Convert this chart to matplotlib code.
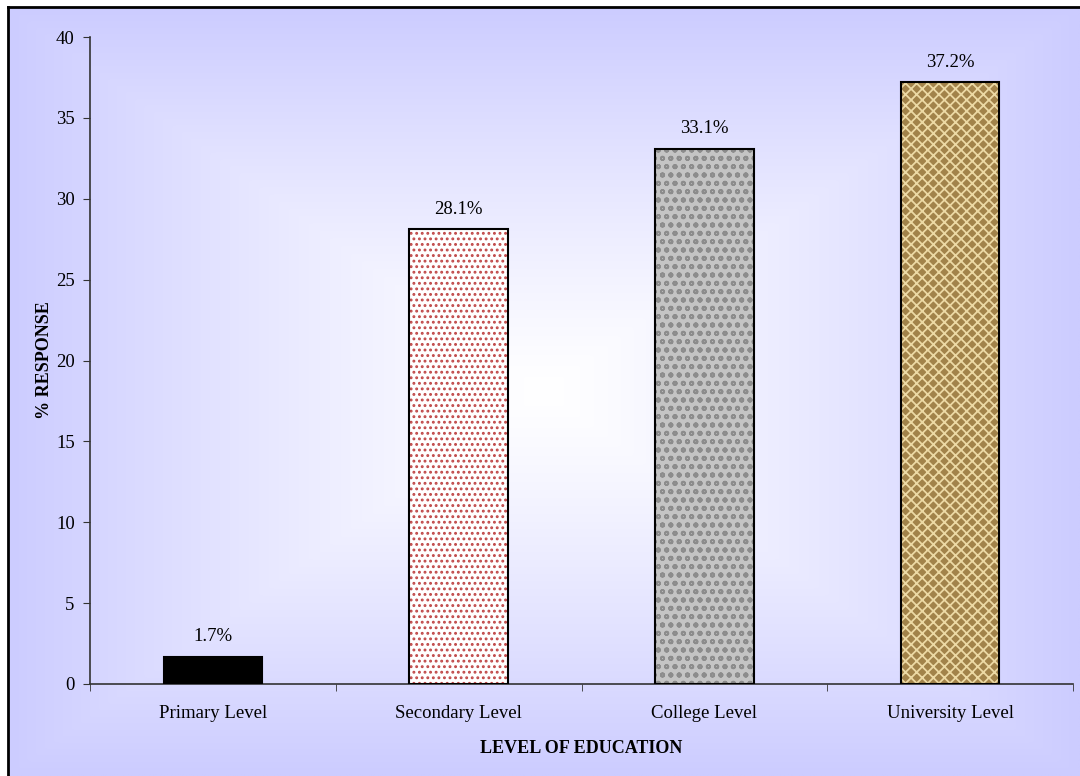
import numpy as np
import matplotlib.pyplot as plt

categories = ['Primary Level', 'Secondary Level', 'College Level', 'University Level']
values = [1.7, 28.1, 33.1, 37.2]
labels = ['1.7%', '28.1%', '33.1%', '37.2%']
yticks = [0, 5, 10, 15, 20, 25, 30, 35, 40]

plt.rcParams['font.family'] = ['Liberation Serif', 'DejaVu Serif']
plt.rcParams['hatch.linewidth'] = 1.3

fig = plt.figure(figsize=(10.8, 7.76), dpi=100)
fig.patch.set_facecolor('white')

# background: rectangular gradient, white centre -> lavender edges
bg = fig.add_axes([8 / 1080, 0, 1 - 8 / 1080, 1 - 7 / 776])
bg.set_zorder(-5)
ny, nx = 200, 300
yy, xx = np.mgrid[-1:1:ny * 1j, -1:1:nx * 1j]
d = np.maximum(np.abs(xx), np.abs(yy))
t = np.clip(d, 0, 1) ** 1.2
edge = np.array([204, 204, 255]) / 255.0
img = (1 - t[..., None]) * np.array([1.0, 1.0, 1.0]) + t[..., None] * edge
bg.imshow(img, aspect='auto', extent=[0, 1, 0, 1], interpolation='bilinear')
bg.set_xlim(0, 1)
bg.set_ylim(0, 1)
bg.set_xticks([])
bg.set_yticks([])
for s in ['right', 'bottom']:
    bg.spines[s].set_visible(False)
for s in ['left', 'top']:
    bg.spines[s].set_linewidth(2)
    bg.spines[s].set_color('black')

ax = fig.add_axes([90 / 1080, 1 - 684 / 776, (1073 - 90) / 1080, (684 - 37) / 776])
ax.patch.set_alpha(0)

x = np.arange(len(categories))
faces = ['black', 'white', '#c4c4c4', '#a2834a']
hatches = [None, '...', 'oo', 'xxx']
hcolors = ['black', '#c04848', '#8c8c8c', '#ecd9a4']
for i in range(len(categories)):
    ax.bar(x[i], values[i], width=0.4, color=faces[i], hatch=hatches[i],
           edgecolor=hcolors[i], linewidth=0, zorder=2)
ax.bar(x, values, width=0.4, facecolor='none', edgecolor='black', linewidth=1.5, zorder=3)

for xi, v, lab in zip(x, values, labels):
    ax.annotate(lab, (xi, v), xytext=(0, 8), textcoords='offset points',
                ha='center', va='bottom', fontsize=13.5)

ax.set_xlim(-0.5, len(categories) - 0.5)
ax.set_ylim(0, 40)
ax.set_yticks(yticks)
ax.set_xticks(x)
ax.set_xticklabels(categories, fontsize=13.5)
ax.set_xticks(np.arange(-0.5, len(categories)), minor=True)
ax.tick_params(axis='x', which='major', length=0, pad=15)
ax.tick_params(axis='x', which='minor', length=5, direction='out', color='#333333')
ax.tick_params(axis='y', length=5, direction='out', labelsize=13.5, pad=6, color='#333333')

for s in ['top', 'right']:
    ax.spines[s].set_visible(False)
for s in ['left', 'bottom']:
    ax.spines[s].set_color('#333333')
    ax.spines[s].set_linewidth(1.2)

ax.set_ylabel('% RESPONSE', fontsize=13, fontweight='bold', labelpad=2)
ax.set_xlabel('LEVEL OF EDUCATION', fontsize=13, fontweight='bold', labelpad=13)

fig.savefig('out.png', dpi=100)
